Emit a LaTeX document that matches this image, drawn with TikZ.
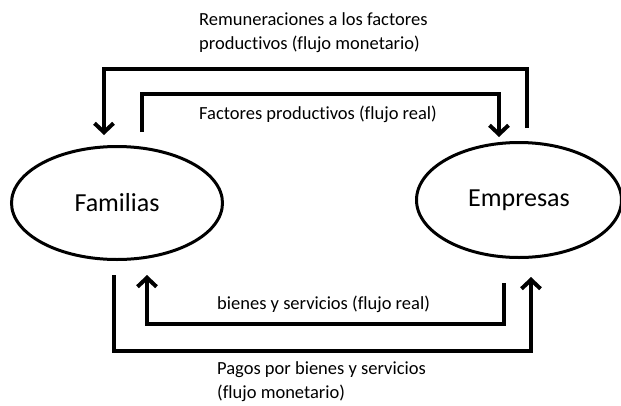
\documentclass[tikz,border=0pt]{standalone}
\usepackage{fontspec}
\setmainfont{Carlito}[Ligatures=NoCommon]
\usetikzlibrary{shapes.geometric,arrows.meta,positioning,calc}
\tikzstyle{sector}=[ellipse, draw, line width=3pt, inner sep=0pt, font=\fontsize{26}{30}\selectfont]
\tikzstyle{flow}=[line width=4pt, line join=miter]
\tikzstyle{flowarrow}=[flow, -{Straight Barb[length=9pt,width=19pt]}]
\tikzstyle{flowtext}=[align=left, inner sep=0pt, font=\fontsize{18.5}{24}\selectfont]
\tikzset{y=-1pt}
\tikzset{x=1pt}

\begin{document}
\begin{tikzpicture}
  \useasboundingbox (0,0) rectangle (621,405);
  %% Sectors
  \draw (117,203) node[sector,minimum width=211pt,minimum height=113pt] (fam) {Familias};
  \draw (519,200) node[sector,minimum width=205pt,minimum height=115pt] (emp) {Empresas};

  %% Flow ends
  \coordinate (famTL) at (104,135);
  \coordinate (famTR) at (142,132);
  \coordinate (famBL) at (114,275);
  \coordinate (famBR) at (147,275);
  \coordinate (empTL) at (499,137);
  \coordinate (empTR) at (527,128);
  \coordinate (empBL) at (504,283);
  \coordinate (empBR) at (531,277);

  %% Top flows
  \draw[flowarrow] (empTR) -- (527,69) -- (104,69) -- (famTL);
  \draw[flowarrow] (famTR) -- (142,94) -- (499,94) -- (empTL);
  %% Bottom flows
  \draw[flowarrow] (empBL) -- (504,324) -- (147,324) -- (famBR);
  \draw[flowarrow] (famBL) -- (114,351) -- (531,351) -- (empBR);

  %% Labels
  \draw (199,33) node[flowtext,anchor=west] (remun) {Remuneraciones a los factores\\productivos (flujo monetario)};
  \draw (199,119) node[flowtext,anchor=base west] (factores) {Factores productivos (flujo real)};
  \draw (217,309) node[flowtext,anchor=base west] (bienes) {bienes y servicios (flujo real)};
  \draw (217,382) node[flowtext,anchor=west] (pagos) {Pagos por bienes y servicios\\(flujo monetario)};
\end{tikzpicture}
\end{document}
